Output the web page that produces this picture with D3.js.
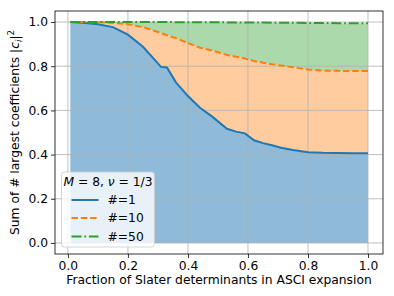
<html>
<head>
<script src="https://d3js.org/d3.v7.min.js"></script>
<style>
body { margin: 0; background: #fff; }
text { font-family: "DejaVu Sans", sans-serif; fill: #000; }
</style>
</head>
<body>
<svg id="chart" width="394" height="296"></svg>
<script>
// fraction of Slater determinants kept
var xFrac = [0.008, 0.05, 0.1, 0.15, 0.2, 0.25, 0.3, 0.31, 0.33, 0.36, 0.4, 0.44, 0.48, 0.51, 0.53,
             0.56, 0.59, 0.62, 0.65, 0.68, 0.71, 0.75, 0.8, 0.85, 0.9, 0.95, 1.0];
// sum of the # largest |c_i|^2
var top1 = [1.0, 0.997, 0.99, 0.977, 0.943, 0.888, 0.813, 0.797, 0.794, 0.727, 0.665, 0.612, 0.573,
            0.539, 0.517, 0.504, 0.496, 0.465, 0.452, 0.442, 0.431, 0.421, 0.411, 0.408, 0.407, 0.406, 0.406];
var top10 = [1.0, 1.0, 0.999, 0.996, 0.99, 0.977, 0.955, 0.95, 0.94, 0.927, 0.905, 0.884, 0.871,
             0.86, 0.851, 0.843, 0.835, 0.824, 0.816, 0.809, 0.803, 0.795, 0.785, 0.78, 0.779, 0.778, 0.778];
var top50 = [1.0, 1.0, 1.0, 1.0, 1.0, 1.0, 1.0, 1.0, 1.0, 0.9995, 0.999, 0.999, 0.999,
             0.999, 0.9985, 0.998, 0.998, 0.998, 0.9975, 0.997, 0.997, 0.9965, 0.996, 0.9955, 0.995, 0.9945, 0.994];
var seriesNames = ["#=1", "#=10", "#=50"];
var xTicks = [0.0, 0.2, 0.4, 0.6, 0.8, 1.0];
var yTicks = [0.0, 0.2, 0.4, 0.6, 0.8, 1.0];

var fs = "12.3px";
var svg = d3.select("#chart");
var x = d3.scaleLinear().domain([-0.043, 1.05]).range([55, 383]);
var y = d3.scaleLinear().domain([-0.05, 1.05]).range([254, 11]);

var rows = xFrac.map(function(v, i) { return {x: v, a: top1[i], b: top10[i], c: top50[i]}; });

// filled bands
function band(lo, hi) {
    return d3.area().x(function(d) { return x(d.x); })
        .y0(function(d) { return lo ? y(d[lo]) : y(0); })
        .y1(function(d) { return y(d[hi]); });
}
svg.append("path").datum(rows).attr("d", band(null, "a")).attr("fill", "#1f77b4").attr("fill-opacity", 0.5);
svg.append("path").datum(rows).attr("d", band("a", "b")).attr("fill", "#ff7f0e").attr("fill-opacity", 0.4);
svg.append("path").datum(rows).attr("d", band("b", "c")).attr("fill", "#2ca02c").attr("fill-opacity", 0.4);

// grid
svg.append("g").selectAll("line").data(xTicks).enter().append("line")
    .attr("x1", function(d) { return x(d); }).attr("x2", function(d) { return x(d); })
    .attr("y1", 11).attr("y2", 254).attr("stroke", "#b0b0b0").attr("stroke-width", 0.8);
svg.append("g").selectAll("line").data(yTicks).enter().append("line")
    .attr("y1", function(d) { return y(d); }).attr("y2", function(d) { return y(d); })
    .attr("x1", 55).attr("x2", 383).attr("stroke", "#b0b0b0").attr("stroke-width", 0.8);

// lines
var styles = [
    {key: "a", color: "#1f77b4", dash: null},
    {key: "b", color: "#ff7f0e", dash: "6.5,2.8"},
    {key: "c", color: "#2ca02c", dash: "10,2.8,1.8,2.8"}
];
styles.forEach(function(s) {
    svg.append("path").datum(rows)
        .attr("d", d3.line().x(function(d) { return x(d.x); }).y(function(d) { return y(d[s.key]); }))
        .attr("fill", "none").attr("stroke", s.color).attr("stroke-width", 2)
        .attr("stroke-dasharray", s.dash);
});

// axes
var gx = svg.append("g").attr("transform", "translate(0,254)")
    .call(d3.axisBottom(x).tickValues(xTicks).tickFormat(d3.format(".1f")).tickSize(4).tickPadding(3));
var gy = svg.append("g").attr("transform", "translate(55,0)")
    .call(d3.axisLeft(y).tickValues(yTicks).tickFormat(d3.format(".1f")).tickSize(4).tickPadding(3));
[gx, gy].forEach(function(g) {
    g.select(".domain").remove();
    g.selectAll("text").style("font-size", fs).style("font-family", "DejaVu Sans");
    g.selectAll("line").attr("stroke", "#000").attr("stroke-width", 0.8);
});
svg.append("rect").attr("x", 55).attr("y", 11).attr("width", 328).attr("height", 243)
    .attr("fill", "none").attr("stroke", "#000").attr("stroke-width", 0.8);

// axis labels
svg.append("text").attr("x", 219).attr("y", 284).attr("text-anchor", "middle")
    .style("font-size", fs).text("Fraction of Slater determinants in ASCI expansion");
var yl = svg.append("text").attr("transform", "translate(19,132.5) rotate(-90)")
    .attr("text-anchor", "middle").style("font-size", fs);
yl.append("tspan").text("Sum of # largest coefficients |");
yl.append("tspan").style("font-style", "italic").text("c");
yl.append("tspan").attr("dy", 3).style("font-size", "8.7px").style("font-style", "italic").text("i");
yl.append("tspan").attr("dy", -3).text("|");
yl.append("tspan").attr("dy", -5).style("font-size", "8.7px").text("2");

// legend
var lg = svg.append("g");
lg.append("rect").attr("x", 61.5).attr("y", 172).attr("width", 93).attr("height", 75).attr("rx", 3)
    .attr("fill", "#fff").attr("fill-opacity", 0.8).attr("stroke", "#cccccc").attr("stroke-width", 0.8);
var title = lg.append("text").attr("x", 108).attr("y", 186).attr("text-anchor", "middle").style("font-size", fs);
title.append("tspan").style("font-style", "italic").text("M");
title.append("tspan").text(" = 8, ");
title.append("tspan").style("font-style", "italic").text("ν");
title.append("tspan").text(" = 1/3");
var rowY = [200, 218, 236.5];
styles.forEach(function(s, i) {
    lg.append("line").attr("x1", 71.5).attr("x2", 98.5).attr("y1", rowY[i]).attr("y2", rowY[i])
        .attr("stroke", s.color).attr("stroke-width", 2).attr("stroke-dasharray", s.dash);
    lg.append("text").attr("x", 107.5).attr("y", rowY[i] + 4.4).style("font-size", fs).text(seriesNames[i]);
});
</script>
</body>
</html>
